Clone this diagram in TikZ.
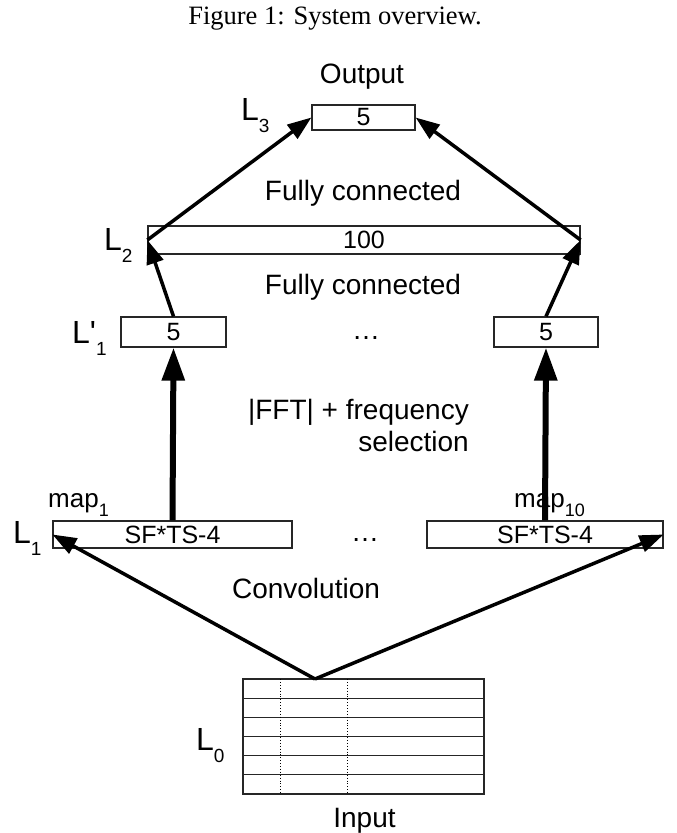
\documentclass[tikz,border=0pt]{standalone}
\usepackage{fontspec}
\setmainfont{Liberation Sans}[Ligatures=TeXOff]
\newfontfamily\capfont{Liberation Serif}
\usetikzlibrary{arrows.meta}

\newcommand{\layername}[2]{\fontsize{32}{36}\selectfont #1\raisebox{-12pt}{\fontsize{19}{19}\selectfont #2}}
\newcommand{\mapname}[1]{\fontsize{26}{30}\selectfont map\raisebox{-9pt}{\fontsize{18}{18}\selectfont #1}}

\tikzset{
  layerbox/.style={draw=black!85, line width=1.2pt, inner sep=0pt, font=\fontsize{25}{25}\selectfont},
  lbl/.style={anchor=base west, inner sep=0pt},
  note/.style={anchor=base, inner sep=0pt, font=\fontsize{28}{32}\selectfont},
  conn/.style={line width=3.5pt, -{Triangle[length=24pt,width=17pt]}},
  fatconn/.style={line width=6pt, -{Triangle[length=33pt,width=22pt]}},
  gridline/.style={line width=1.2pt, draw=black!85},
}

\begin{document}
\begin{tikzpicture}[x=1pt, y=-1pt]
            \useasboundingbox (0,0) rectangle (677,833);

            % Caption
            \node[anchor=base, inner sep=0pt, font=\capfont\fontsize{26.5}{30}\selectfont] (caption) at (335,24) {Figure 1: System overview.};

            % Define layers
            \node[layerbox, minimum width=103pt, minimum height=25pt] (L3box) at (363.5,117.5) {5};
            \node[layerbox, minimum width=432pt, minimum height=28pt] (L2box) at (364,240) {100};
            \node[layerbox, minimum width=105pt, minimum height=30pt] (Lp1a) at (173.5,332) {5};
            \node[layerbox, minimum width=104pt, minimum height=30pt] (Lp1b) at (546,332) {5};
            \node[layerbox, minimum width=239pt, minimum height=27pt] (L1a) at (172.5,534.5) {SF*TS-4};
            \node[layerbox, minimum width=236pt, minimum height=27pt] (L1b) at (545,534.5) {SF*TS-4};

            % Input grid
            \draw[gridline] (243,679) rectangle (484,794);
            \foreach \r in {1,...,5}
                \draw[gridline] (243,679+\r*19.17) -- (484,679+\r*19.17);
            \draw[line width=0.9pt, dotted] (280,679) -- (280,794);
            \draw[line width=0.9pt, dotted] (347,679) -- (347,794);
            \coordinate (apex) at (315,679);

            % Layer names
            \node[lbl] (nL3) at (241,120) {\layername{L}{3}};
            \node[lbl] (nL2) at (104,250) {\layername{L}{2}};
            \node[lbl] (nLp1) at (72,343) {\layername{L'}{1}};
            \node[lbl] (nL1) at (13,543) {\layername{L}{1}};
            \node[lbl] (nL0) at (196,750) {\layername{L}{0}};
            \node[lbl] (map1) at (48,507) {\mapname{1}};
            \node[lbl] (map10) at (514,507) {\mapname{10}};

            % Add texts
            \node[note] (output) at (362,83) {Output};
            \node[note] (fc2) at (363,200) {Fully connected};
            \node[note] (fc1) at (363,294) {Fully connected};
            \node[note] (dotsA) at (366,339) {…};
            \node[note, anchor=north east, align=right] (fft) at (469,399.5) {|FFT| + frequency\\selection};
            \node[note] (dotsB) at (365,541) {…};
            \node[note] (conv) at (306,598) {Convolution};
            \node[note] (input) at (364.5,827) {Input};

            % Draw connections
            \draw[conn] (L2box.west) -- (L3box.west);
            \draw[conn] (L2box.east) -- (L3box.east);
            \draw[conn] (Lp1a.north) -- (L2box.west);
            \draw[conn] (Lp1b.north) -- (L2box.east);
            \draw[fatconn] (L1a.north) -- (Lp1a.south);
            \draw[fatconn] (L1b.north) -- (Lp1b.south);
            \draw[conn] (apex) -- (L1a.west);
            \draw[conn] (apex) -- (L1b.east);
\end{tikzpicture}
\end{document}
